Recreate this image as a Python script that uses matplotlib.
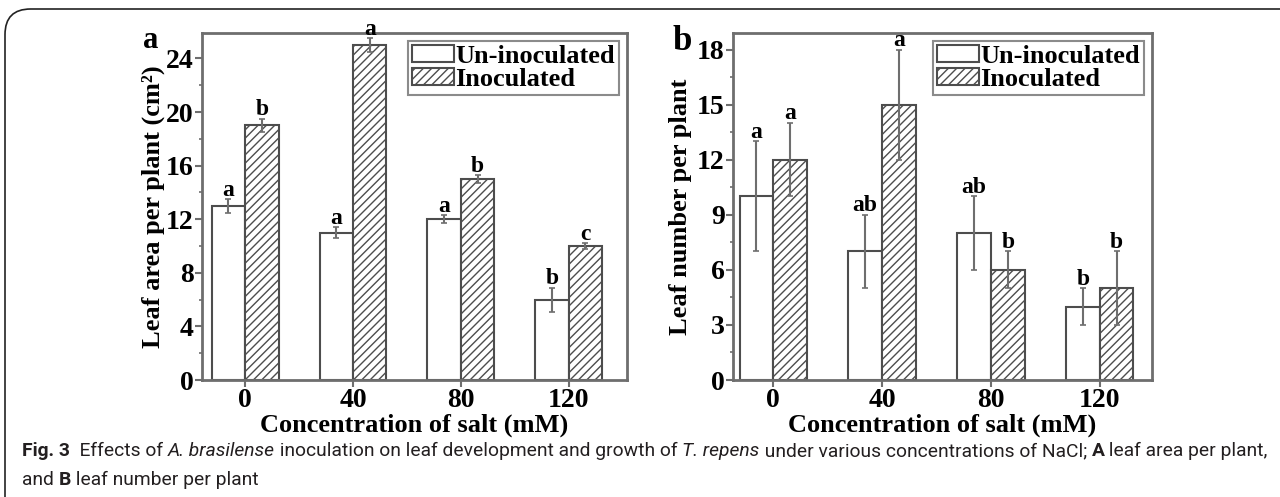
import matplotlib
matplotlib.use("Agg")
import matplotlib.pyplot as plt
import numpy as np
from matplotlib.patches import FancyBboxPatch

# concentrations of NaCl (mM)
conc = ["0", "40", "80", "120"]

# panel a: leaf area per plant (cm2)
area_un = [13, 11, 12, 6]
area_un_err = [0.5, 0.4, 0.3, 0.9]
area_in = [19, 25, 15, 10]
area_in_err = [0.5, 0.5, 0.3, 0.2]
area_un_let = ["a", "a", "a", "b"]
area_in_let = ["b", "a", "b", "c"]

# panel b: leaf number per plant
num_un = [10, 7, 8, 4]
num_un_err = [3, 2, 2, 1]
num_in = [12, 15, 6, 5]
num_in_err = [2, 3, 1, 2]
num_un_let = ["a", "ab", "ab", "b"]
num_in_let = ["a", "a", "b", "b"]

W, H = 1280, 497
SERIF = ["Liberation Serif", "DejaVu Serif"]
GRAY = "#6e6e6e"
plt.rcParams["hatch.color"] = "#555555"
plt.rcParams["hatch.linewidth"] = 1.0

fig = plt.figure(figsize=(W / 100, H / 100), dpi=100)

# rounded frame around the figure (open to the right and bottom)
frame = FancyBboxPatch((5 / W, -0.2), 1.3, 0.2 + (H - 9) / H,
                       boxstyle="round,pad=0,rounding_size=0.02",
                       transform=fig.transFigure, fill=False,
                       edgecolor="#222222", linewidth=1.2, mutation_aspect=W / H)
fig.patches.append(frame)


def panel(rect, un, un_err, inoc, inoc_err, un_let, in_let, ylim, yticks,
          ylabel, tag, xlim, ylabx):
    ax = fig.add_axes(rect)
    x = np.arange(len(conc))
    w = 0.31
    ekw = dict(ecolor=GRAY, elinewidth=1.5, capsize=2.5, capthick=1.2)
    ax.bar(x - w / 2, un, w, yerr=un_err, color="white", edgecolor="#4d4d4d",
           linewidth=1.5, error_kw=ekw, label="Un-inoculated", zorder=2)
    ax.bar(x + w / 2, inoc, w, yerr=inoc_err, color="white", edgecolor="#4d4d4d",
           linewidth=1.5, hatch="////", error_kw=ekw, label="Inoculated", zorder=2)
    for i in range(len(conc)):
        ax.annotate(un_let[i], (x[i] - w / 2, un[i] + un_err[i]), xytext=(0, 2.5),
                    textcoords="offset points", ha="center", va="baseline",
                    family=SERIF, fontweight="bold", fontsize=17, zorder=4)
        ax.annotate(in_let[i], (x[i] + w / 2, inoc[i] + inoc_err[i]), xytext=(0, 2.5),
                    textcoords="offset points", ha="center", va="baseline",
                    family=SERIF, fontweight="bold", fontsize=17, zorder=4)
    ax.set_xlim(*xlim)
    ax.set_ylim(*ylim)
    ax.set_xticks(x)
    ax.set_xticklabels(conc)
    ax.set_yticks(yticks)
    step = yticks[1] - yticks[0]
    ax.set_yticks(np.arange(0, ylim[1], step / 2), minor=True)
    for s in ax.spines.values():
        s.set_color(GRAY)
        s.set_linewidth(2)
    ax.tick_params(axis="both", which="major", direction="out", length=5, width=1.5,
                   color=GRAY, pad=1)
    ax.tick_params(axis="y", which="minor", direction="out", length=2.5, width=1.2,
                   color=GRAY)
    for lab in ax.get_xticklabels() + ax.get_yticklabels():
        lab.set_family(SERIF)
        lab.set_fontweight("bold")
        lab.set_fontsize(20)
    ax.set_xlabel("Concentration of salt (mM)", family=SERIF, fontweight="bold",
                  fontsize=19, labelpad=0)
    ax.set_ylabel(ylabel, family=SERIF, fontweight="bold", fontsize=19)
    ax.yaxis.set_label_coords(ylabx, 0.5)
    leg = ax.legend(loc="upper right", prop=dict(family=SERIF, weight="bold", size=19),
                    frameon=True, fancybox=False, handlelength=1.6, handleheight=0.6,
                    handletextpad=0.05, labelspacing=0.0, borderpad=0.15,
                    borderaxespad=0.3)
    leg.get_frame().set_edgecolor(GRAY)
    leg.get_frame().set_linewidth(1.5)
    fig.text(tag[0], tag[1], tag[2], family=SERIF, fontweight="bold", fontsize=tag[3],
             ha="center", va="center")
    return ax


bottom = (H - 380) / H
height = 347 / H
panel([202 / W, bottom, 425 / W, height], area_un, area_un_err, area_in, area_in_err,
      area_un_let, area_in_let, (0, 25.9), [0, 4, 8, 12, 16, 20, 24],
      "Leaf area per plant (cm²)", (151 / W, 1 - 40 / H, "a", 22), (-0.40, 3.54), -0.087)
panel([733 / W, bottom, 419 / W, height], num_un, num_un_err, num_in, num_in_err,
      num_un_let, num_in_let, (0, 18.9), [0, 3, 6, 9, 12, 15, 18],
      "Leaf number per plant", (682 / W, 1 - 42 / H, "b", 25), (-0.37, 3.48), -0.098)

# caption, drawn run by run and scaled to the reference line width
CAP = ["Roboto", "DejaVu Sans"]
line1 = [("Fig. 3", "normal", "bold"), ("  Effects of ", "normal", "normal"),
         ("A. brasilense", "italic", "normal"),
         (" inoculation on leaf development and growth of ", "normal", "normal"),
         ("T. repens", "italic", "normal"),
         (" under various concentrations of NaCl; ", "normal", "normal"),
         ("A", "normal", "bold"), (" leaf area per plant,", "normal", "normal")]
line2 = [("and ", "normal", "normal"), ("B", "normal", "bold"),
         (" leaf number per plant", "normal", "normal")]

renderer = fig.canvas.get_renderer()


def caption_line(runs, x0, y0, size):
    x = x0
    texts = []
    for txt, style, weight in runs:
        t = fig.text(x / W, 1 - y0 / H, txt, family=CAP, style=style, fontweight=weight,
                     fontsize=size, color="#231f20", ha="left", va="center")
        x += t.get_window_extent(renderer).width
        texts.append(t)
    return texts, x - x0


# measure line 1 at a trial size, then redraw at the size that fills 1243 px
trial, width = caption_line(line1, 22, 451, 13.0)
for t in trial:
    t.remove()
cap_size = 13.0 * 1243 / width
caption_line(line1, 22, 451, cap_size)
caption_line(line2, 22, 480, cap_size)

fig.savefig("out.png", dpi=100)
